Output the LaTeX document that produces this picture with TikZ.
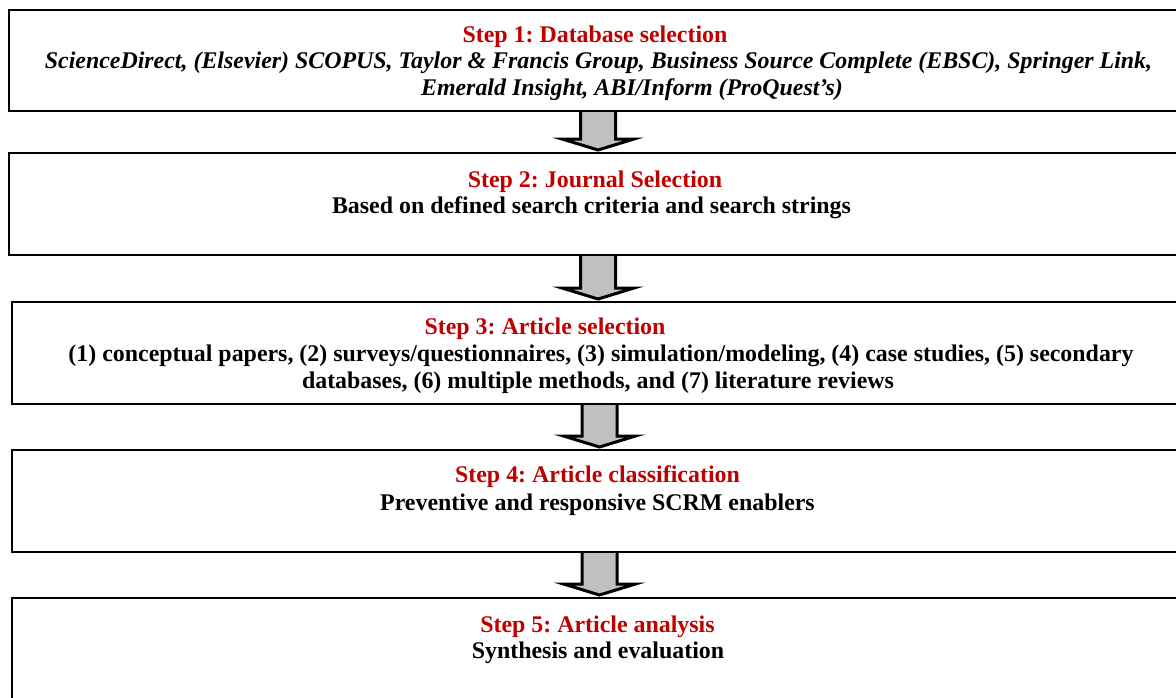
\documentclass[tikz,border=0pt]{standalone}
\usepackage{fontspec}
\setmainfont{Liberation Serif}
\frenchspacing
\usetikzlibrary{calc}
\definecolor{stepred}{RGB}{192,0,0}
\definecolor{arrowgray}{RGB}{192,192,192}
\tikzset{
  stepbox/.style={draw=black, line width=2pt, rectangle, inner sep=0pt, anchor=north west},
  titletext/.style={anchor=base, inner sep=0pt, text=stepred, font=\fontsize{23.9}{26.5}\selectfont\bfseries},
  bodytext/.style={anchor=base, inner sep=0pt, text=black, font=\fontsize{23.9}{26.5}\selectfont\bfseries},
  italtext/.style={anchor=base, inner sep=0pt, text=black, font=\fontsize{23.9}{26.5}\selectfont\bfseries\itshape},
  blockarrow/.style={draw=black, fill=arrowgray, line width=3pt, line join=miter, miter limit=20}
}
\newcommand{\stepconnector}[2]{%
  \draw[blockarrow]
    ($(#1.south)+(-17.5,0)$) --
    ($(#1.south |- #2.north)+(-17.5,-13)$) --
    ($(#1.south |- #2.north)+(-36,-13)$) --
    ($(#1.south |- #2.north)+(0,-2)$) --
    ($(#1.south |- #2.north)+(36,-13)$) --
    ($(#1.south |- #2.north)+(17.5,-13)$) --
    ($(#1.south)+(17.5,0)$);
}
\begin{document}
\begin{tikzpicture}[x=1pt,y=-1pt]
\useasboundingbox (0,0) rectangle (1176,697);
\clip (0,0) rectangle (1176,697);
\fill[white] (0,0) rectangle (1176,697);
% boxes
\node[stepbox, minimum width=1178pt, minimum height=101pt] (b1) at (8,9) {};
\node[stepbox, minimum width=1178pt, minimum height=102pt] (b2) at (8,152) {};
\node[stepbox, minimum width=1175pt, minimum height=102pt] (b3) at (11,301) {};
\node[stepbox, minimum width=1175pt, minimum height=102pt] (b4) at (11,449) {};
\node[stepbox, minimum width=1175pt, minimum height=110pt] (b5) at (11,597) {};
% connectors
\stepconnector{b1}{b2}
\stepconnector{b2}{b3}
\stepconnector{b3}{b4}
\stepconnector{b4}{b5}
% texts
\node[titletext] (t1) at (595,42) {Step 1: Database selection};
\node[italtext] (t1a) at (598.5,68.5) {ScienceDirect, (Elsevier) SCOPUS, Taylor \& Francis Group, Business Source Complete (EBSC), Springer Link,};
\node[italtext] (t1b) at (632,95) {Emerald Insight, ABI/Inform (ProQuest’s)};
\node[titletext] (t2) at (595,187) {Step 2: Journal Selection};
\node[bodytext] (t2a) at (591.5,213.5) {Based on defined search criteria and search strings};
\node[titletext] (t3) at (545,334) {Step 3: Article selection};
\node[bodytext] (t3a) at (601,361) {(1) conceptual papers, (2) surveys/questionnaires, (3) simulation/modeling, (4) case studies, (5) secondary};
\node[bodytext] (t3b) at (598,388) {databases, (6) multiple methods, and (7) literature reviews};
\node[titletext] (t4) at (597.5,482) {Step 4: Article classification};
\node[bodytext] (t4a) at (597.5,510) {Preventive and responsive SCRM enablers};
\node[titletext] (t5) at (597.5,632) {Step 5: Article analysis};
\node[bodytext] (t5a) at (598,658.5) {Synthesis and evaluation};
\end{tikzpicture}
\end{document}
